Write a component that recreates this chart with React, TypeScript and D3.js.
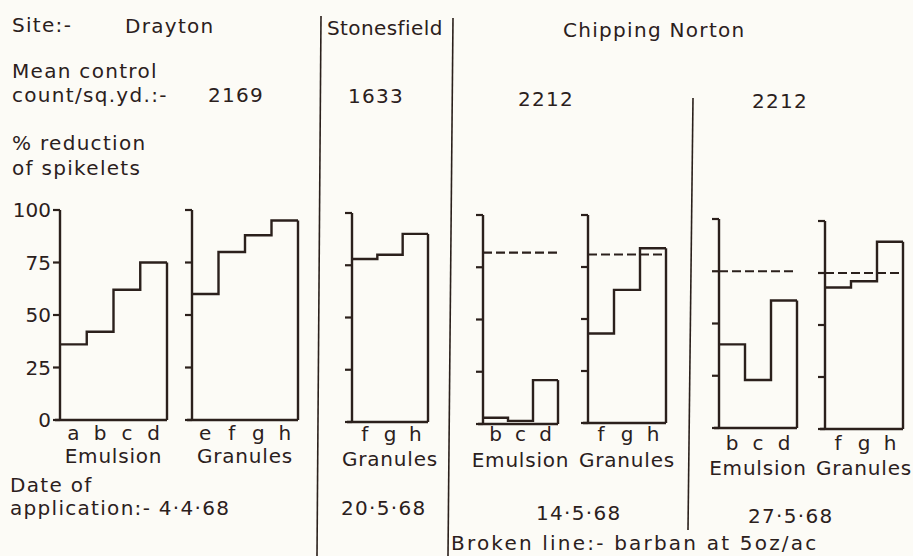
import React from "react"
import * as d3 from "d3"

// % reduction of spikelets
const draytonEmulsionCats = ["a", "b", "c", "d"]
const draytonEmulsion = [36, 42, 62, 75]
const draytonGranulesCats = ["e", "f", "g", "h"]
const draytonGranules = [60, 80, 88, 95]
const stonesfieldCats = ["f", "g", "h"]
const stonesfieldGranules = [78, 80, 90]
const emulsionCats = ["b", "c", "d"]
const granulesCats = ["f", "g", "h"]
const norton14Emulsion = [3, 1.5, 21]
const norton14Granules = [43, 64, 84]
const norton27Emulsion = [40, 23, 61]
const norton27Granules = [68, 71, 90]
// barban at 5 oz/ac (broken line)
const barban = [null, null, null, 82, 81, 75, 75]

const yTicks = [0, 25, 50, 75, 100]
const yTickLabels = ["0", "25", "50", "75", "100"]

const INK = "#2b201c"
const FONT = "'DejaVu Sans', sans-serif"
const FS = 20
const LS = 1.3

const panels = [
  { cats: draytonEmulsionCats, vals: draytonEmulsion, group: "Emulsion", x0: 60, x1: 167, top: 210, bot: 420, lab: 440, glab: 463 },
  { cats: draytonGranulesCats, vals: draytonGranules, group: "Granules", x0: 192, x1: 298, top: 210, bot: 420, lab: 440, glab: 463 },
  { cats: stonesfieldCats, vals: stonesfieldGranules, group: "Granules", x0: 352, x1: 428, top: 213, bot: 422, lab: 441, glab: 466 },
  { cats: emulsionCats, vals: norton14Emulsion, group: "Emulsion", x0: 483, x1: 558, top: 215, bot: 424, lab: 441, glab: 467 },
  { cats: granulesCats, vals: norton14Granules, group: "Granules", x0: 588, x1: 666, top: 215, bot: 423, lab: 441, glab: 467 },
  { cats: emulsionCats, vals: norton27Emulsion, group: "Emulsion", x0: 719, x1: 797, top: 219, bot: 428, lab: 450, glab: 475 },
  { cats: granulesCats, vals: norton27Granules, group: "Granules", x0: 825, x1: 903, top: 221, bot: 429, lab: 450, glab: 475 },
]

const Panel = ({ p, i }) => {
  const x = d3.scaleBand().domain(p.cats).range([p.x0, p.x1]).padding(0)
  const y = d3.scaleLinear().domain([0, 100]).range([p.bot, p.top])
  const pts = p.cats.map((c, k) => [x(c), y(p.vals[k])])
  pts.push([p.x1, y(p.vals[p.vals.length - 1])])
  const step = d3.line().curve(d3.curveStepAfter)(pts)
  const dash = barban[i]
  return (
    <g>
      {/* axis */}
      <line x1={p.x0} x2={p.x0} y1={y(100)} y2={y(0)} stroke={INK} strokeWidth={2.4} />
      {yTicks.map((t) => (
        <line key={t} x1={p.x0 - 7} x2={p.x0} y1={y(t)} y2={y(t)} stroke={INK} strokeWidth={2.2} />
      ))}
      {i === 0 &&
        yTicks.map((t, k) => (
          <text key={t} x={51} y={y(t)} dy="0.36em" textAnchor="end" fontSize={FS} fill={INK} fontFamily={FONT}>
            {yTickLabels[k]}
          </text>
        ))}
      {/* baseline and step outline */}
      <line x1={p.x0 - 5} x2={p.x1} y1={y(0)} y2={y(0)} stroke={INK} strokeWidth={2.4} />
      <path d={step} fill="none" stroke={INK} strokeWidth={2.4} />
      <line x1={p.x1} x2={p.x1} y1={y(p.vals[p.vals.length - 1])} y2={y(0)} stroke={INK} strokeWidth={2.4} />
      {dash != null && (
        <line x1={p.x0} x2={p.x1 - 1} y1={y(dash)} y2={y(dash)} stroke={INK} strokeWidth={2.2} strokeDasharray="9,4" />
      )}
      {p.cats.map((c) => (
        <text key={c} x={x(c) + x.bandwidth() / 2} y={p.lab} textAnchor="middle" fontSize={FS} fill={INK} fontFamily={FONT}>
          {c}
        </text>
      ))}
      <text x={(p.x0 + p.x1) / 2} y={p.glab} textAnchor="middle" fontSize={FS} letterSpacing={0.8} fill={INK} fontFamily={FONT}>
        {p.group}
      </text>
    </g>
  )
}

const T = ({ x, y, ls = LS, children }) => (
  <text x={x} y={y} fontSize={FS} letterSpacing={ls} fill={INK} fontFamily={FONT}>
    {children}
  </text>
)

export default function App() {
  return (
    <svg width={913} height={556} style={{ position: "absolute", left: 0, top: 0, background: "#fcfbf6" }}>
      {/* dividers (slightly skewed, as in the scan) */}
      <line x1={321} x2={317} y1={16} y2={556} stroke={INK} strokeWidth={1.6} />
      <line x1={453} x2={448} y1={18} y2={556} stroke={INK} strokeWidth={1.6} />
      <line x1={693} x2={688} y1={98} y2={530} stroke={INK} strokeWidth={1.6} />

      <T x={12} y={32}>Site:-</T>
      <T x={125} y={33}>Drayton</T>
      <T x={327} y={35} ls={0.4}>Stonesfield</T>
      <T x={563} y={37}>Chipping Norton</T>
      <T x={12} y={78}>Mean control</T>
      <T x={12} y={102}>count/sq.yd.:-</T>
      <T x={208} y={102}>2169</T>
      <T x={348} y={103}>1633</T>
      <T x={518} y={106}>2212</T>
      <T x={752} y={108}>2212</T>
      <T x={12} y={150}>% reduction</T>
      <T x={12} y={175}>of spikelets</T>

      {panels.map((p, i) => (
        <Panel key={i} p={p} i={i} />
      ))}

      <T x={10} y={492}>Date of</T>
      <T x={10} y={515}>application:- 4·4·68</T>
      <T x={341} y={515}>20·5·68</T>
      <T x={536} y={520}>14·5·68</T>
      <T x={748} y={523}>27·5·68</T>
      <T x={451} y={550} ls={2.2}>Broken line:- barban at 5oz/ac</T>
    </svg>
  )
}
